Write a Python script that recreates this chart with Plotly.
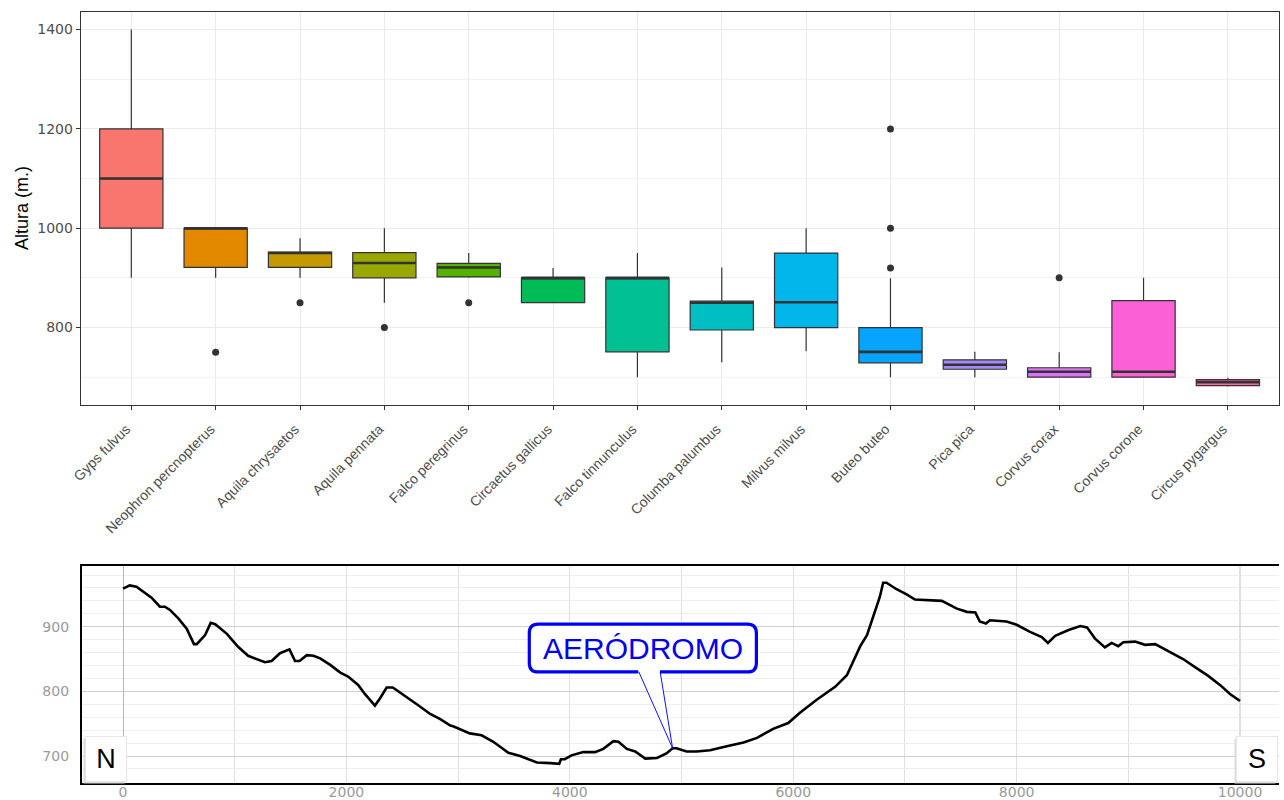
import plotly.graph_objects as go

# ---- Altitude of flight per species (box plot summary values, m) ----
species = ["Gyps fulvus", "Neophron percnopterus", "Aquila chrysaetos", "Aquila pennata",
           "Falco peregrinus", "Circaetus gallicus", "Falco tinnunculus", "Columba palumbus",
           "Milvus milvus", "Buteo buteo", "Pica pica", "Corvus corax", "Corvus corone",
           "Circus pygargus"]
whisker_low = [900, 900, 900, 850, 900, 850, 700, 730, 752, 700, 700, 700, 700, 681]
q1 = [1000, 921, 921, 900, 902, 850, 751, 795, 800, 729, 716, 700, 700, 683]
median = [1100, 1000, 950, 930, 921, 900, 900, 850, 851, 751, 725, 711, 711, 690]
q3 = [1200, 1000, 952, 951, 929, 900, 900, 853, 950, 800, 735, 719, 854, 695]
whisker_high = [1400, 1000, 980, 1000, 950, 920, 950, 921, 1000, 899, 751, 750, 900, 699]

outlier_species = ["Neophron percnopterus", "Aquila chrysaetos", "Aquila pennata",
                   "Falco peregrinus", "Buteo buteo", "Buteo buteo", "Buteo buteo",
                   "Corvus corax"]
outlier_values = [750, 850, 800, 850, 920, 1000, 1200, 900]

fill_colors = ["#F8766D", "#E38900", "#C49A00", "#99A800", "#53B400", "#00BC56", "#00C094",
               "#00BFC4", "#00B6EB", "#06A4FF", "#A58AFF", "#DF70F8", "#FB61D7", "#FF66A8"]

# ---- Terrain profile N -> S (distance m, altitude m) ----
distance = [0, 60, 120, 195, 255, 330, 375, 420, 495, 570, 635, 660, 735, 785, 825, 930,
            1030, 1120, 1195, 1270, 1330, 1405, 1490, 1540, 1580, 1645, 1705, 1765, 1855,
            1945, 2015, 2105, 2165, 2255, 2300, 2360, 2415, 2510, 2630, 2750, 2840, 2930,
            2955, 3105, 3210, 3315, 3450, 3555, 3705, 3825, 3905, 3920, 3955, 4015, 4120,
            4225, 4300, 4390, 4435, 4510, 4585, 4675, 4780, 4865, 4920, 4955, 5045, 5135,
            5255, 5405, 5555, 5675, 5820, 5955, 6060, 6210, 6375, 6480, 6540, 6600, 6660,
            6730, 6775, 6805, 6835, 6925, 7015, 7090, 7195, 7330, 7465, 7555, 7630, 7670,
            7725, 7760, 7910, 8000, 8120, 8225, 8280, 8345, 8465, 8570, 8630, 8700, 8790,
            8850, 8910, 8955, 9060, 9150, 9240, 9345, 9490, 9610, 9715, 9820, 9910, 10000]
altitude = [959, 964, 962, 953, 945, 931, 931, 926, 913, 897, 873, 873, 887, 906, 904, 889,
            869, 855, 850, 845, 847, 859, 865, 847, 847, 856, 855, 851, 841,
            829, 823, 810, 796, 778, 789, 806, 806, 795, 780, 765, 757, 747,
            746, 735, 732, 722, 705, 700, 690, 689, 688, 695, 695, 701, 706,
            706, 711, 723, 722, 711, 707, 696, 697, 704, 712, 712, 707, 707,
            709, 715, 721, 728, 742, 751, 767, 787, 807, 825, 848, 870, 887,
            921, 946, 968, 968, 958, 950, 942, 941, 940, 928, 923, 922, 908,
            905, 910, 908, 903, 892, 884, 875, 886, 895, 901, 899, 882, 868,
            875, 870, 876, 877, 872, 873, 863, 850, 836, 824, 810, 796, 785]
airfield_index = distance.index(4920)
profile_ticks = [0, 2000, 4000, 6000, 8000, 10000]
profile_ticktext = [str(v) for v in profile_ticks]

FONT = "Liberation Sans, Arial, sans-serif"
NUM_FONT = "DejaVu Sans, sans-serif"
W, H = 1284, 800
BOX_W = 0.75

fig = go.Figure()

# Box plots, one trace per species so each gets its own fill
for i, name in enumerate(species):
    fig.add_trace(go.Box(
        x=[i], q1=[q1[i]], median=[median[i]], q3=[q3[i]],
        lowerfence=[whisker_low[i]], upperfence=[whisker_high[i]],
        width=BOX_W, whiskerwidth=0, fillcolor=fill_colors[i],
        line=dict(color="#333333", width=1.2), boxpoints=False,
        hoverinfo="skip", showlegend=False, xaxis="x", yaxis="y"))
    # thicker median bar
    fig.add_trace(go.Scatter(
        x=[i - BOX_W / 2, i + BOX_W / 2], y=[median[i], median[i]], mode="lines",
        line=dict(color="#333333", width=2.6), hoverinfo="skip", showlegend=False,
        xaxis="x", yaxis="y"))

# outliers
fig.add_trace(go.Scatter(
    x=[species.index(s) for s in outlier_species], y=outlier_values, mode="markers",
    marker=dict(color="#333333", size=7), hoverinfo="skip", showlegend=False,
    xaxis="x", yaxis="y"))

# terrain profile
fig.add_trace(go.Scatter(
    x=distance, y=altitude, mode="lines", line=dict(color="#000000", width=2.6),
    hoverinfo="skip", showlegend=False, xaxis="x2", yaxis="y2"))

# ---- AERÓDROMO callout (drawn in profile data units) ----
tip_x, tip_y = distance[airfield_index], altitude[airfield_index]
bx0, bx1, by0, by1 = 3637, 5670, 830, 904
rx, ry = 80, 14
fig.add_shape(type="path", xref="x2", yref="y2",
              path=f"M 4613 {by0 + 2} L {tip_x} {tip_y} L 4807 {by0 + 2} Z",
              fillcolor="white", line=dict(color="#1010FF", width=1))
fig.add_shape(type="path", xref="x2", yref="y2",
              path=(f"M {bx0 + rx} {by1} L {bx1 - rx} {by1} Q {bx1} {by1} {bx1} {by1 - ry} "
                    f"L {bx1} {by0 + ry} Q {bx1} {by0} {bx1 - rx} {by0} "
                    f"L {bx0 + rx} {by0} Q {bx0} {by0} {bx0} {by0 + ry} "
                    f"L {bx0} {by1 - ry} Q {bx0} {by1} {bx0 + rx} {by1} Z"),
              fillcolor="white", line=dict(color="rgba(0,0,0,0)", width=0))
rounded = (f"M {bx0 + rx} {by1} L {bx1 - rx} {by1} Q {bx1} {by1} {bx1} {by1 - ry} "
           f"L {bx1} {by0 + ry} Q {bx1} {by0} {bx1 - rx} {by0} "
           f"L 4807 {by0} M 4613 {by0} "
           f"L {bx0 + rx} {by0} Q {bx0} {by0} {bx0} {by0 + ry} "
           f"L {bx0} {by1 - ry} Q {bx0} {by1} {bx0 + rx} {by1}")
fig.add_shape(type="path", xref="x2", yref="y2", path=rounded,
              line=dict(color="#0000F0", width=3.2))
fig.add_annotation(xref="x2", yref="y2", x=(bx0 + bx1) / 2, y=(by0 + by1) / 2,
                   text="AERÓDROMO", showarrow=False,
                   font=dict(family=FONT, size=30, color="#0000F0"))

# darker edge grid line at the far end of the profile
fig.add_shape(type="line", xref="x2", yref="y2 domain", x0=profile_ticks[-1],
              x1=profile_ticks[-1], y0=0, y1=1, line=dict(color="#b8b8b8", width=1),
              layer="below")

# N / S direction tags
for label, xpos in (("N", -156), ("S", 10150)):
    fig.add_annotation(xref="x2", yref="y2", x=xpos, y=696, text="", showarrow=False,
                       width=38, height=42, bgcolor="#dcdcdc", xshift=-2, yshift=-2)
    fig.add_annotation(xref="x2", yref="y2", x=xpos, y=696, text=label, showarrow=False,
                       width=38, height=42, bgcolor="white", bordercolor="#e6e6e6",
                       borderwidth=1, font=dict(family=FONT, size=27, color="#000000"))

# y title of the box plot
fig.add_annotation(xref="paper", yref="paper", x=22 / W, y=1 - 208 / H, text="Altura (m.)",
                   xanchor="center", yanchor="middle", textangle=-90, showarrow=False,
                   font=dict(family=FONT, size=18, color="#000000"))

fig.update_layout(
    width=W, height=H, margin=dict(l=0, r=0, t=0, b=0, autoexpand=False),
    paper_bgcolor="white", plot_bgcolor="white", boxmode="overlay",
    font=dict(family=FONT),
    xaxis=dict(domain=[80.7 / W, 1278.5 / W], range=[-0.6, 13.6], anchor="y",
               automargin=False,
               tickvals=list(range(len(species))), ticktext=species, tickangle=-45,
               ticks="outside", ticklen=4, tickcolor="#333333",
               ticklabelstandoff=6, ticklabelshift=-5,
               tickfont=dict(family=FONT, size=14, color="#4D4D4D"),
               showgrid=True, gridcolor="#EBEBEB", gridwidth=1, zeroline=False,
               showline=True, mirror=True, linecolor="#333333", linewidth=1),
    yaxis=dict(domain=[1 - 404.5 / H, 1 - 11.7 / H], range=[645, 1436], anchor="x",
               automargin=False,
               tickvals=[800, 1000, 1200, 1400], ticks="outside", ticklen=4,
               tickcolor="#333333", tickfont=dict(family=NUM_FONT, size=14, color="#4D4D4D"),
               showgrid=True, gridcolor="#EBEBEB", gridwidth=1, zeroline=False,
               minor=dict(tickvals=[700, 900, 1100, 1300], showgrid=True,
                          gridcolor="#F2F2F2", gridwidth=1),
               showline=True, mirror=True, linecolor="#333333", linewidth=1),
    xaxis2=dict(domain=[81.7 / W, 1278.7 / W], range=[-370, 10346], anchor="y2",
                automargin=False,
                tickvals=profile_ticks, ticktext=profile_ticktext, ticks="",
                ticklabelstandoff=-4,
                tickfont=dict(family=NUM_FONT, size=14, color="#9a9a9a"),
                showgrid=True, gridcolor="#e0e0e0", gridwidth=1,
                minor=dict(tickvals=[1000, 3000, 5000, 7000, 9000], showgrid=True,
                           gridcolor="#e0e0e0", gridwidth=1),
                zeroline=True, zerolinecolor="#b8b8b8", zerolinewidth=1,
                showline=True, mirror=True, linecolor="#000000", linewidth=1.6),
    yaxis2=dict(domain=[1 - 782.7 / H, 1 - 565.7 / H], range=[658.7, 994.4], anchor="x2",
                automargin=False,
                tickvals=[700, 800, 900], ticks="", ticklabelstandoff=8,
                tickfont=dict(family=NUM_FONT, size=14, color="#9a9a9a"),
                showgrid=True, gridcolor="#cfcfcf", gridwidth=1, zeroline=False,
                minor=dict(dtick=20, showgrid=True, gridcolor="#eeeeee", gridwidth=1),
                showline=True, mirror=False, linecolor="#000000", linewidth=1.6),
)

fig.write_html("out.html")
